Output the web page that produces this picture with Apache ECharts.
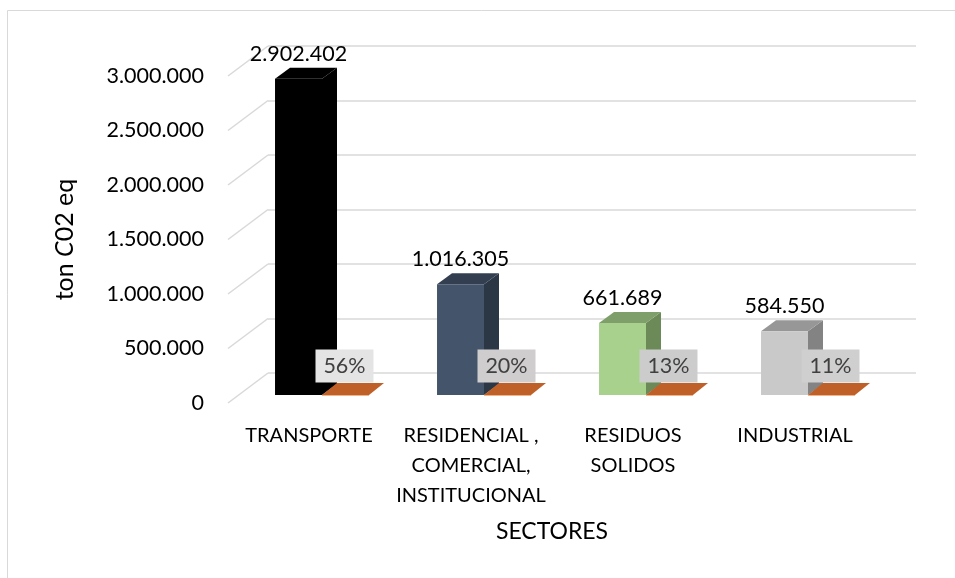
<!DOCTYPE html>
<html><head><meta charset="utf-8">
<script src="https://cdn.jsdelivr.net/npm/echarts@6/dist/echarts.min.js"></script>
<style>html,body{margin:0;padding:0;background:#fff}#c{width:955px;height:578px}</style>
</head><body><div id="c"></div>
<script>
// ---- data ----
const categories = ['TRANSPORTE', 'RESIDENCIAL ,\nCOMERCIAL,\nINSTITUCIONAL', 'RESIDUOS\nSOLIDOS', 'INDUSTRIAL'];
const emissions = [2902402, 1016305, 661689, 584550];
const shares = [56, 20, 13, 11];
const yTicks = [0, 500000, 1000000, 1500000, 2000000, 2500000, 3000000];
const yMin = 0, yMax = 3000000, yStep = 500000;
const xAxisTitle = 'SECTORES';

// ---- styles ----
const FONT = 'Lato';
const frontColors = ['#000000', '#44546A', '#A9D18E', '#C9C9C9'];
const topColors = ['#000000', '#333F50', '#7F9F6A', '#979797'];
const sideColors = ['#000000', '#2C3746', '#6B8A58', '#838383'];
const shareBoxColors = ['#E4E4E4', '#CFCDCD', '#CCCCCC', '#CFCFCF'];
const ORANGE_TOP = '#BF6028', ORANGE_EDGE = '#F1B48A';
const GRID_COLOR = '#D9D9D9';
const BAR_FRAC = 0.29;
const DDX = 15, DDY = -11;      // bar depth offset
const WDX = 40, WDY = -30;      // floor depth offset (front plane -> back wall)

function fmt(n) { return String(Math.round(n)).replace(/\B(?=(\d{3})+(?!\d))/g, '.'); }

const chart = echarts.init(document.getElementById('c'), null, {renderer: 'canvas'});

const yBase = {type: 'value', min: yMin, max: yMax, interval: yStep};
const xBase = {type: 'category', data: categories, axisLine: {show: false}, axisTick: {show: false}};

const option = {
  backgroundColor: '#ffffff',
  animation: false,
  graphic: [{
    type: 'rect', z: 0, silent: true,
    shape: {x: 7.5, y: 10.5, width: 1200, height: 1200},
    style: {fill: 'none', stroke: GRID_COLOR, lineWidth: 1}
  }],
  grid: [
    {left: 268, top: 46, width: 648, height: 327},   // back wall
    {left: 228, top: 76, width: 648, height: 327},   // front plane
    {left: 241, top: 68, width: 648, height: 327}    // bar plane
  ],
  xAxis: [
    Object.assign({}, xBase, {gridIndex: 0, axisLabel: {show: false}}),
    Object.assign({}, xBase, {
      gridIndex: 1,
      axisLabel: {show: true, fontFamily: FONT, fontSize: 20, color: '#000', lineHeight: 30, margin: 18, interval: 0},
      name: xAxisTitle, nameLocation: 'middle', nameGap: 117,
      nameTextStyle: {fontFamily: FONT, fontSize: 23, color: '#000'}
    }),
    Object.assign({}, xBase, {gridIndex: 2, axisLabel: {show: false}})
  ],
  yAxis: [
    Object.assign({}, yBase, {gridIndex: 0, axisLabel: {show: false}, axisLine: {show: false}, axisTick: {show: false},
      splitLine: {show: true, lineStyle: {color: GRID_COLOR, width: 1.5}}}),
    Object.assign({}, yBase, {gridIndex: 1, axisLine: {show: false}, axisTick: {show: false}, splitLine: {show: false},
      axisLabel: {fontFamily: FONT, fontSize: 21.5, color: '#000', margin: 24, formatter: v => fmt(v)},
      name: 'ton {i|C}02 eq', nameLocation: 'middle', nameGap: 151,
      nameTextStyle: {fontFamily: FONT, fontSize: 25, color: '#000', rich: {i: {fontFamily: FONT, fontSize: 25, fontStyle: 'italic', color: '#000'}}}
    }),
    Object.assign({}, yBase, {gridIndex: 2, show: false, splitLine: {show: false}})
  ],
  series: [
    {
      type: 'custom', name: 'floor', xAxisIndex: 1, yAxisIndex: 1, z: 1, silent: true,
      data: yTicks.map(v => [0, v]),
      renderItem: function (params, api) {
        const y = api.coord([0, api.value(1)])[1];
        const x = params.coordSys.x;
        return {type: 'line', shape: {x1: x, y1: y, x2: x + WDX, y2: y + WDY},
          style: {stroke: GRID_COLOR, lineWidth: 1.5}};
      }
    },
    {
      type: 'custom', name: 'ton CO2 eq', xAxisIndex: 2, yAxisIndex: 2, z: 3,
      data: emissions.map((v, i) => [i, v]),
      renderItem: function (params, api) {
        const i = api.value(0), v = api.value(1);
        const p = api.coord([i, v]);
        const b = api.coord([i, 0]);
        const w = api.size([1, 0])[0] * BAR_FRAC;
        const x0 = p[0] - w, x1 = p[0];
        const top = p[1], bot = b[1];
        return {type: 'group', children: [
          {type: 'polygon', shape: {points: [[x1, top], [x1 + DDX, top + DDY], [x1 + DDX, bot + DDY], [x1, bot]]},
            style: {fill: sideColors[i]}},
          {type: 'polygon', shape: {points: [[x0, top], [x1, top], [x1 + DDX, top + DDY], [x0 + DDX, top + DDY]]},
            style: {fill: topColors[i]}},
          {type: 'rect', shape: {x: x0, y: top, width: w, height: bot - top}, style: {fill: frontColors[i]}},
          {type: 'text', x: x0 + w / 2, y: top + DDY - 14,
            style: {text: fmt(v), align: 'center', verticalAlign: 'middle', fontFamily: FONT, fontSize: 21.5, fill: '#000'}}
        ]};
      }
    },
    {
      type: 'custom', name: 'share', xAxisIndex: 2, yAxisIndex: 2, z: 4,
      data: shares.map((s, i) => [i, s]),
      renderItem: function (params, api) {
        const i = api.value(0), s = api.value(1);
        const p = api.coord([i, s / 100]);
        const b = api.coord([i, 0]);
        const w = api.size([1, 0])[0] * BAR_FRAC;
        const x0 = p[0], x1 = p[0] + w;
        const top = p[1], bot = b[1];
        const cx = x0 + w / 2 - 1, cy = bot - 29;
        return {type: 'group', children: [
          {type: 'polygon', shape: {points: [[x0, top], [x1, top], [x1 + DDX, top + DDY - 1], [x0 + DDX, top + DDY - 1]]},
            style: {fill: ORANGE_TOP}},
          {type: 'line', shape: {x1: x0, y1: bot + 0.5, x2: x1, y2: bot + 0.5}, style: {stroke: ORANGE_EDGE, lineWidth: 1}},
          {type: 'rect', shape: {x: cx - 29, y: cy - 16.5, width: 58, height: 33}, style: {fill: shareBoxColors[i]}},
          {type: 'text', x: cx, y: cy,
            style: {text: s + '%', align: 'center', verticalAlign: 'middle', fontFamily: FONT, fontSize: 21.5, fill: '#404040'}}
        ]};
      }
    }
  ]
};
chart.setOption(option);
</script>
</body></html>
